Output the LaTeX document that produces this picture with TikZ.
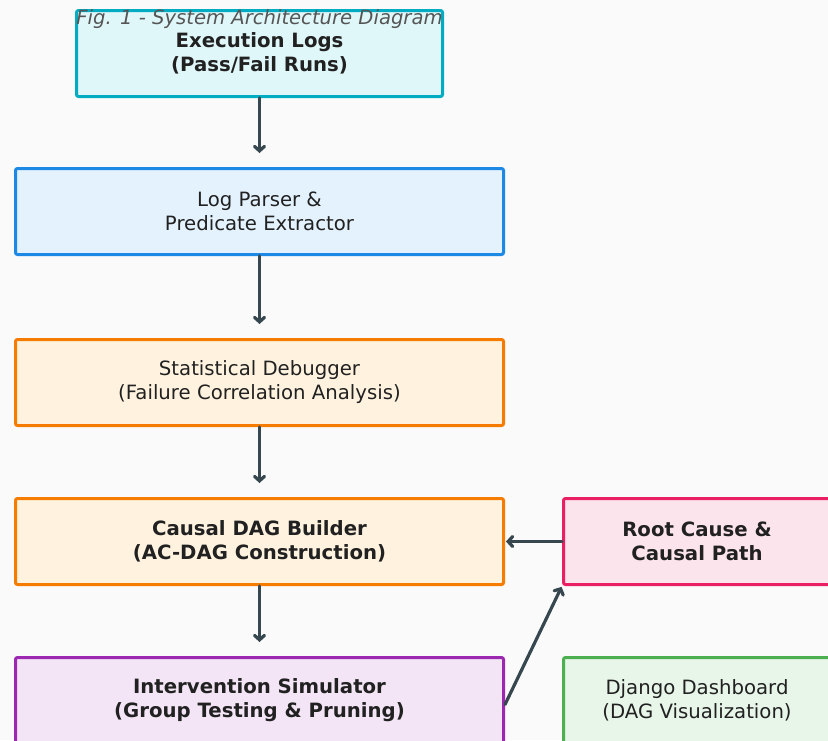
\documentclass[tikz,border=0pt]{standalone}
\usepackage{fontspec}
\setmainfont{DejaVu Sans}
\usetikzlibrary{arrows.meta}
\definecolor{bg}{HTML}{FAFAFA}
\definecolor{arrowc}{HTML}{37474F}
\definecolor{txt}{HTML}{212121}
\definecolor{capc}{HTML}{555555}
\definecolor{cyanF}{HTML}{E0F7FA}\definecolor{cyanD}{HTML}{00ACC1}
\definecolor{blueF}{HTML}{E3F2FD}\definecolor{blueD}{HTML}{1E88E5}
\definecolor{orF}{HTML}{FFF3E0}\definecolor{orD}{HTML}{F57C00}
\definecolor{pkF}{HTML}{FCE4EC}\definecolor{pkD}{HTML}{E91E63}
\definecolor{puF}{HTML}{F3E5F5}\definecolor{puD}{HTML}{9C27B0}
\definecolor{grF}{HTML}{E8F5E9}\definecolor{grD}{HTML}{4CAF50}
\tikzset{
  box/.style={draw, line width=3pt, rounded corners=2pt, align=center,
    text=txt, font=\fontsize{19.7}{24}\selectfont, inner sep=0pt,
    minimum width=488pt, minimum height=86pt},
  boldbox/.style={box, font=\bfseries\fontsize{19.7}{24}\selectfont},
  arr/.style={draw=arrowc, line width=3.2pt, line cap=round,
    -{Straight Barb[length=4.5pt,width=10pt,line cap=round]}}
}
\begin{document}
\begin{tikzpicture}[x=1pt,y=-1pt]
\fill[bg] (0,0) rectangle (828,740);
\useasboundingbox (0,0) rectangle (828,740);
\begin{scope}
\clip (0,0) rectangle (828,740);
\node[boldbox, fill=cyanF, draw=cyanD, minimum width=366pt] (ex) at (259.5,53.5) {Execution Logs\\(Pass/Fail Runs)};
\node[box, fill=blueF, draw=blueD] (lp) at (259.5,211.5) {Log Parser \&\\Predicate Extractor};
\node[box, fill=orF, draw=orD] (sd) at (259.5,382.5) {Statistical Debugger\\(Failure Correlation Analysis)};
\node[boldbox, fill=orF, draw=orD] (cd) at (259.5,541.5) {Causal DAG Builder\\(AC-DAG Construction)};
\node[boldbox, fill=pkF, draw=pkD, minimum width=267pt] (rc) at (697,541.5) {Root Cause \&\\Causal Path};
\node[boldbox, fill=puF, draw=puD] (iv) at (259.5,700.5) {Intervention Simulator\\(Group Testing \& Pruning)};
\node[box, fill=grF, draw=grD, minimum width=267pt] (dj) at (697,700.5) {Django Dashboard\\(DAG Visualization)};
\end{scope}
\node[font=\itshape\fontsize{19.6}{22}\selectfont, text=capc, inner sep=0pt] (cap) at (259.5,19) {Fig. 1 - System Architecture Diagram};
\draw[arr, shorten >=14pt] (ex.south) -- (lp.north);
\draw[arr, shorten >=14pt] (lp.south) -- (sd.north);
\draw[arr, shorten >=14pt] (sd.south) -- (cd.north);
\draw[arr, shorten >=14pt] (cd.south) -- (iv.north);
\draw[arr, shorten >=1pt] (rc.west) -- (cd.east);
\draw[arr, shorten >=1pt] ([yshift=-4pt]iv.east) -- (rc.south west);
\end{tikzpicture}
\end{document}
